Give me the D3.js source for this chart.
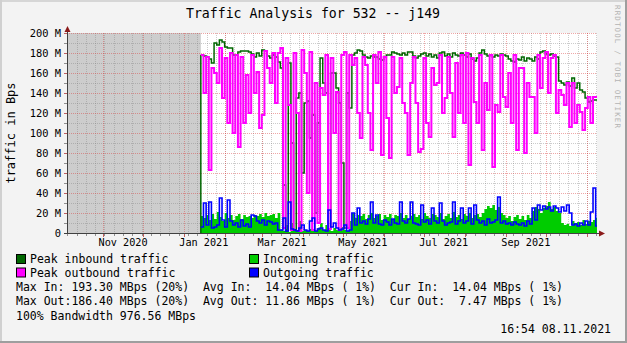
<!DOCTYPE html>
<html><head><meta charset="utf-8">
<script src="https://cdn.jsdelivr.net/npm/d3@7"></script>
<style>
body{margin:0;background:#f3f3f3}
svg{display:block}
text{font-family:"DejaVu Sans Mono",monospace;white-space:pre}
</style></head><body><div id="chart"></div>
<script>
// values in MBps, one per 2 days, starting 13 Jan 2021
const peakIn = [
  178,177,176,174,170,190,188,193,191,186,
  185,185,178,178,181,182,182,182,181,179,
  176,180,177,183,182,177,175,178,176,171,
  165,48,2,170,90,3,135,140,60,130,
  132,95,118,20,110,175,150,140,4,160,
  160,145,130,70,5,140,125,178,180,183,
  182,178,176,175,177,176,176,174,173,176,
  178,178,181,180,179,178,180,178,181,181,
  177,175,177,179,180,177,179,176,178,175,
  180,181,177,179,176,180,178,177,180,178,
  176,179,174,172,175,180,183,179,177,178,
  176,178,177,179,178,177,174,172,171,174,
  173,176,172,175,174,172,176,174,181,182,
  179,178,179,177,176,152,150,148,151,147,
  155,145,150,143,141,135,131,132,133,133
];
const incoming = [
  17,15,18,13,19,14,21,16,12,20,
  15,18,13,17,19,14,18,16,17,15,
  18,17,19,16,20,17,18,19,15,20,
  3,2,8,1,10,4,3,12,2,3,
  2,4,3,2,5,10,3,8,4,2,
  5,3,4,6,3,2,12,20,15,18,
  17,19,14,18,20,15,17,19,13,18,
  16,19,14,18,17,20,15,18,14,17,
  19,16,18,14,20,17,15,19,18,16,
  20,14,17,19,15,21,16,18,14,19,
  17,20,15,18,19,16,20,24,27,25,
  28,23,26,20,18,15,17,12,16,18,
  14,17,13,18,15,22,26,24,20,25,
  27,31,24,26,22,20,10,8,9,7,
  12,10,11,8,13,9,12,11,13,15
];
const peakOut = [
  178,140,176,63,165,160,150,185,135,175,
  110,180,100,178,86,176,110,158,120,178,
  140,161,105,118,182,165,150,180,130,180,
  185,5,175,128,3,180,120,2,183,160,
  40,181,3,150,10,145,138,178,4,175,
  100,141,3,178,181,5,178,168,175,120,
  95,176,168,120,83,178,150,181,78,176,
  115,75,176,140,146,175,130,120,78,150,
  176,130,81,84,175,110,96,165,148,150,
  178,120,135,176,140,96,170,120,178,110,
  180,68,175,131,110,178,83,150,123,178,
  66,128,121,178,136,126,160,110,178,83,
  165,165,80,150,136,136,100,178,145,175,
  181,140,175,178,120,143,138,128,150,106,
  150,110,128,121,103,125,136,110,136,136
];
const outgoing = [
  6,30,8,31,5,6,8,35,13,6,
  33,12,8,10,6,13,7,9,6,18,
  17,12,10,13,8,12,11,9,10,3,
  3,15,2,31,4,3,2,5,8,3,
  2,12,15,2,4,5,3,2,23,6,
  10,5,3,4,8,2,3,20,8,25,
  10,12,9,14,31,10,18,9,8,13,
  11,8,14,10,9,31,12,10,14,31,
  10,9,8,28,11,13,9,25,12,10,
  30,12,8,10,11,31,9,12,25,10,
  12,25,9,28,13,10,12,8,14,10,
  11,13,36,10,12,9,10,8,11,9,
  8,10,7,12,9,25,13,28,23,27,
  24,26,22,27,25,21,26,22,28,20,
  8,9,7,10,8,12,8,21,45,7
];
const yTicks = [0,20,40,60,80,100,120,140,160,180,200];

const legend = [
  {label: "Peak inbound traffic", color: "#006600", col: 0, row: 0},
  {label: "Incoming traffic", color: "#00CC00", col: 1, row: 0},
  {label: "Peak outbound traffic", color: "#FF00FF", col: 0, row: 1},
  {label: "Outgoing traffic", color: "#0000FF", col: 1, row: 1}
];
const stats = [
  "Max In: 193.30 MBps (20%)  Avg In:  14.04 MBps ( 1%)  Cur In:  14.04 MBps ( 1%)",
  "Max Out:186.40 MBps (20%)  Avg Out: 11.86 MBps ( 1%)  Cur Out:  7.47 MBps ( 1%)",
  "100% Bandwidth 976.56 MBps"
];

const W = 627, H = 343;
const pL = 67, pR = 597, pT = 33, pB = 233;
const DAY = 864e5;
const tEnd = new Date(2021, 10, 8, 16, 54);
const tStart = new Date(+tEnd - 400 * DAY);
const dataStart = new Date(+tEnd - 299 * DAY);

const x = d3.scaleTime().domain([tStart, tEnd]).range([pL, pR]);
const y = d3.scaleLinear().domain([0, 200]).range([pB, pT]);

const svg = d3.select("#chart").append("svg")
    .attr("width", W)
    .attr("height", H);

// background + shaded frame
svg.append("rect").attr("width", W).attr("height", H).attr("fill", "#f3f3f3");
svg.append("rect").attr("x", 0).attr("y", 0).attr("width", W).attr("height", 2).attr("fill", "#d6d6d6");
svg.append("rect").attr("x", 0).attr("y", 0).attr("width", 2).attr("height", H).attr("fill", "#d0d0d0");
svg.append("rect").attr("x", 0).attr("y", H - 2).attr("width", W).attr("height", 2).attr("fill", "#9e9e9e");
svg.append("rect").attr("x", W - 2).attr("y", 0).attr("width", 2).attr("height", H).attr("fill", "#9e9e9e");

// canvas
svg.append("rect").attr("x", pL).attr("y", pT)
    .attr("width", pR - pL).attr("height", pB - pT).attr("fill", "#fff");

// unknown data region
svg.append("rect").attr("x", pL).attr("y", pT)
    .attr("width", x(dataStart) - pL).attr("height", pB - pT)
    .attr("fill", "#cdcdcd");

// grid
const grid = svg.append("g").attr("shape-rendering", "crispEdges");
const minorY = d3.range(10, 201, 10).filter(v => v % 20 !== 0);
grid.selectAll(".hmin").data(minorY).enter().append("line")
    .attr("x1", pL).attr("x2", pR)
    .attr("y1", d => Math.round(y(d)) + 0.5).attr("y2", d => Math.round(y(d)) + 0.5)
    .attr("stroke", "rgba(128,128,128,0.4)").attr("stroke-dasharray", "1,1");
const weeks = d3.timeMonday.range(tStart, tEnd);
grid.selectAll(".vmin").data(weeks).enter().append("line")
    .attr("x1", d => Math.round(x(d)) + 0.5).attr("x2", d => Math.round(x(d)) + 0.5)
    .attr("y1", pT).attr("y2", pB)
    .attr("stroke", "rgba(128,128,128,0.4)").attr("stroke-dasharray", "1,1");
grid.selectAll(".hmaj").data(yTicks.filter(v => v > 0)).enter().append("line")
    .attr("x1", pL).attr("x2", pR)
    .attr("y1", d => Math.round(y(d)) + 0.5).attr("y2", d => Math.round(y(d)) + 0.5)
    .attr("stroke", "rgba(220,60,60,0.45)").attr("stroke-dasharray", "1,1");
const months = d3.timeMonth.range(tStart, tEnd);
grid.selectAll(".vmaj").data(months).enter().append("line")
    .attr("x1", d => Math.round(x(d)) + 0.5).attr("x2", d => Math.round(x(d)) + 0.5)
    .attr("y1", pT).attr("y2", pB)
    .attr("stroke", "rgba(220,60,60,0.45)").attr("stroke-dasharray", "1,1");

// data
const rows = s => {
  const r = s.map((v, i) => ({t: new Date(+dataStart + i * 2 * DAY), v}));
  r.push({t: new Date(+r[r.length - 1].t + 2 * DAY), v: s[s.length - 1]});
  return r;
};
svg.append("clipPath").attr("id", "clip").append("rect")
    .attr("x", pL).attr("y", pT - 2).attr("width", pR - pL).attr("height", pB - pT + 2);
const g = svg.append("g").attr("clip-path", "url(#clip)");

g.append("path").datum(rows(incoming))
    .attr("fill", "#00CC00")
    .attr("d", d3.area().curve(d3.curveStepAfter).x(d => x(d.t)).y0(y(0)).y1(d => y(d.v)));

const line = d3.line().curve(d3.curveStepAfter).x(d => x(d.t)).y(d => y(d.v));
// peak-in line rises from the baseline where data begins
g.append("line")
    .attr("x1", x(dataStart)).attr("x2", x(dataStart))
    .attr("y1", y(0)).attr("y2", y(peakIn[0]))
    .attr("stroke", "#006600").attr("stroke-width", 1.5);
g.append("path").datum(rows(peakIn)).attr("fill", "none")
    .attr("stroke", "#006600").attr("stroke-width", 1.5).attr("d", line);
g.append("path").datum(rows(peakOut)).attr("fill", "none")
    .attr("stroke", "#FF00FF").attr("stroke-width", 2).attr("d", line);
g.append("path").datum(rows(outgoing)).attr("fill", "none")
    .attr("stroke", "#0000FF").attr("stroke-width", 1.6).attr("d", line);

// axes
const ax = svg.append("g").attr("shape-rendering", "crispEdges");
ax.append("line").attr("x1", 64).attr("x2", 599).attr("y1", pB + 0.5).attr("y2", pB + 0.5)
    .attr("stroke", "#404040");
ax.append("line").attr("x1", pL + 0.5).attr("x2", pL + 0.5).attr("y1", pB + 3).attr("y2", 30)
    .attr("stroke", "#404040");
ax.selectAll(".xt").data(weeks).enter().append("line")
    .attr("x1", d => Math.round(x(d)) + 0.5).attr("x2", d => Math.round(x(d)) + 0.5)
    .attr("y1", pB + 1).attr("y2", pB + 3).attr("stroke", "#909090");
ax.selectAll(".xT").data(months).enter().append("line")
    .attr("x1", d => Math.round(x(d)) + 0.5).attr("x2", d => Math.round(x(d)) + 0.5)
    .attr("y1", pB + 1).attr("y2", pB + 4).attr("stroke", "#c06060");
ax.selectAll(".yt").data(d3.range(10, 201, 10)).enter().append("line")
    .attr("x1", pL - 3).attr("x2", pL)
    .attr("y1", d => Math.round(y(d)) + 0.5).attr("y2", d => Math.round(y(d)) + 0.5)
    .attr("stroke", d => d % 20 === 0 ? "#c06060" : "#909090");
svg.append("path").attr("d", "M67.5,26L70.5,32L64.5,32Z").attr("fill", "#8b1a1a");
svg.append("path").attr("d", "M605,233.5L599,230.5L599,236.5Z").attr("fill", "#8b1a1a");

// y labels
svg.selectAll(".yl").data(yTicks).enter().append("text")
    .attr("x", 61).attr("y", d => y(d) + 4)
    .attr("text-anchor", "end").attr("font-size", "10.4px").attr("fill", "#000")
    .text(d => d === 0 ? "0" : d + " M");

// x labels (centred mid-month, every 2nd month, only if they fit)
const fmt = d3.timeFormat("%b %Y");
const midMonth = d => new Date(d.getFullYear(), d.getMonth(), 16);
const labelMonths = months.filter(m => m.getMonth() % 2 === 0 && x(midMonth(m)) + 25 < pR);
svg.selectAll(".xl").data(labelMonths).enter().append("text")
    .attr("x", d => x(midMonth(d)))
    .attr("y", 246).attr("text-anchor", "middle").attr("font-size", "10.2px")
    .text(fmt);

// title
svg.append("text").attr("x", 313).attr("y", 18).attr("text-anchor", "middle")
    .attr("font-size", "13.2px").text("Traffic Analysis for 532 -- j149");

// axis title
svg.append("text").attr("transform", "translate(15,133) rotate(-90)")
    .attr("text-anchor", "middle").attr("font-size", "12px").text("traffic in Bps");

// watermark
svg.append("text").attr("transform", "translate(615,5) rotate(90)")
    .attr("font-size", "7.5px").attr("fill", "#b4b4b4")
    .attr("textLength", 123).attr("lengthAdjust", "spacing")
    .text("RRDTOOL / TOBI OETIKER");

// legend
const lg = svg.append("g");
legend.forEach(d => {
  const lx = d.col === 0 ? 16 : 249, ly = 254.5 + d.row * 13.5;
  lg.append("rect").attr("x", lx + 0.5).attr("y", ly).attr("width", 9).attr("height", 9)
      .attr("fill", d.color).attr("stroke", "#000").attr("stroke-width", 1);
  lg.append("text").attr("x", lx + 14).attr("y", ly + 8.5).attr("font-size", "11.5px").text(d.label);
});
stats.forEach((s, i) => {
  lg.append("text").attr("x", 16).attr("y", 291 + i * 14.3).attr("font-size", "11.5px").text(s);
});
lg.append("text").attr("x", 611).attr("y", 333).attr("text-anchor", "end")
    .attr("font-size", "11.5px").text("16:54 08.11.2021");
</script></body></html>
